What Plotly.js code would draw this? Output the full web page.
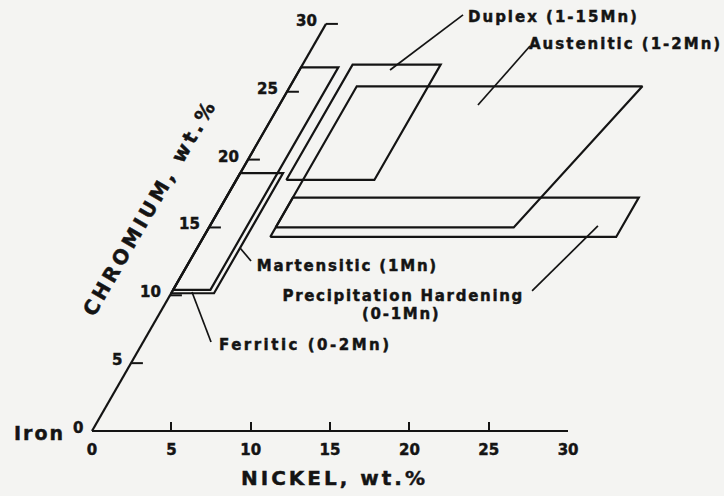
<!DOCTYPE html>
<html>
<head>
<meta charset="utf-8">
<script src="https://cdn.plot.ly/plotly-3.0.1.min.js"></script>
<style>
  html, body { margin: 0; padding: 0; background: #f4f4f2; }
  #chart { width: 724px; height: 496px; }
  #chart text { stroke: #141414; stroke-width: 0.45px; }
</style>
</head>
<body>
<div id="chart"></div>
<script>
// Stainless steel families in the Fe-Cr-Ni corner (oblique Cr axis at 60 degrees)
const niTicks = [0, 5, 10, 15, 20, 25, 30];
const crTicks = [0, 5, 10, 15, 20, 25, 30];

// Region outlines, Ni wt.% and Cr wt.%
const ferriticNi = [0, 2.35, 2.35, 0];
const ferriticCr = [10.4, 10.4, 26.8, 26.8];
const martensiticNi = [0, 2.7, 2.7, 0];
const martensiticCr = [10.15, 10.15, 19.0, 19.0];
const duplexNi = [3.15, 8.7, 8.7, 3.15];
const duplexCr = [18.5, 18.5, 27.0, 27.0];
const austeniticNi = [4.2, 19.2, 22.2, 4.2];
const austeniticCr = [15.0, 15.0, 25.4, 25.4];
const precipNi = [4.2, 26.0, 26.0, 4.2];
const precipCr = [14.3, 14.3, 17.2, 17.2];

const INK = '#141414';
const FONT = 'DejaVu Sans';
// horizontal shift of the oblique chromium axis per wt.% Cr, in nickel units
const SKEW = 0.4915;
const toX = (ni, cr) => ni + SKEW * cr;

function outline(ni, cr) {
  const x = ni.map((n, i) => toX(n, cr[i]));
  const y = cr.slice();
  x.push(x[0]); y.push(y[0]);
  return { x, y, mode: 'lines', line: { color: INK, width: 2.2 }, hoverinfo: 'skip', showlegend: false };
}

const traces = [
  outline(ferriticNi, ferriticCr),
  outline(martensiticNi, martensiticCr),
  outline(duplexNi, duplexCr),
  outline(austeniticNi, austeniticCr),
  outline(precipNi, precipCr)
];

// chromium axis line and its tick marks
traces.push({
  x: [toX(0, crTicks[0]), toX(0, crTicks[crTicks.length - 1])],
  y: [crTicks[0], crTicks[crTicks.length - 1]],
  mode: 'lines', line: { color: INK, width: 2.2 }, hoverinfo: 'skip', showlegend: false
});
const tx = [], ty = [];
crTicks.slice(1).forEach(v => {
  tx.push(toX(0, v), toX(0, v) + 0.75, null);
  ty.push(v, v, null);
});
traces.push({ x: tx, y: ty, mode: 'lines', line: { color: INK, width: 2 }, hoverinfo: 'skip', showlegend: false });

// anchor trace for the nickel axis subplot
traces.push({ x: [0], y: [0], xaxis: 'x2', yaxis: 'y', mode: 'markers',
  marker: { opacity: 0, size: 1 }, hoverinfo: 'skip', showlegend: false });

const bold = (size) => ({ family: FONT, size: size, color: INK, weight: 'bold' });

const annotations = [];
const spacing = [];
// labels anchored at their left edge keep that edge when letter spacing is added
function note(text, x, y, opts, ls) {
  const a = Object.assign({ text, x, y, xref: 'x', yref: 'y', showarrow: false,
    xanchor: 'left', yanchor: 'middle', font: bold(15) }, opts || {});
  if (a.xanchor === 'left' && ls) a.xshift = (a.xshift || 0) + ls * text.length / 2;
  annotations.push(a);
  spacing.push(ls);
}

note('NICKEL, wt.%', 15.25, -3.46, { xanchor: 'center', font: bold(20) }, 3);
note('CHROMIUM, wt.%', 3.65, 16.5, { xanchor: 'center', textangle: -60, font: bold(20) }, 3.5);
note('Duplex (1-15Mn)', 23.57, 30.51, {}, 2);
note('Austenitic (1-2Mn)', 27.41, 28.52, {}, 2);
note('Martensitic (1Mn)', 10.27, 12.16, {}, 1.8);
note('Precipitation Hardening', 19.6, 9.95, { xanchor: 'center' }, 1.7);
note('(0-1Mn)', 19.47, 8.62, { xanchor: 'center' }, 1.7);
note('Ferritic (0-2Mn)', 7.88, 6.34, {}, 2.5);
note('Iron', -5.04, -0.15, { font: { family: FONT, size: 19, color: INK, weight: 'bold' } }, 2);

crTicks.forEach(v => {
  note(String(v), toX(0, v), v, { xanchor: 'right', xshift: -7, yshift: 3 }, 0);
});

// leader lines from labels to regions
const leaders = [
  [23.38, 30.66, 18.78, 26.6],
  [27.6, 28.37, 24.32, 24.02],
  [10.02, 12.53, 9.33, 13.49],
  [27.73, 10.32, 31.88, 15.11],
  [7.5, 6.56, 6.3, 10.24]
];
const shapes = leaders.map(l => ({ type: 'line', xref: 'x', yref: 'y',
  x0: l[0], y0: l[1], x1: l[2], y1: l[3], line: { color: INK, width: 1.7 } }));

// per-annotation letter spacing
const css = spacing.map((s, i) => s ? `g.annotation[data-index="${i}"] text{letter-spacing:${s}px}` : '').join('\n');
const st = document.createElement('style');
st.textContent = css;
document.head.appendChild(st);

const W = 724, H = 496, OX = 92, OY = 431, PXNI = 15.87, PXCR = 13.57;

const layout = {
  width: W, height: H,
  margin: { l: 0, r: 0, t: 0, b: 0 },
  paper_bgcolor: '#f4f4f2',
  plot_bgcolor: 'rgba(0,0,0,0)',
  hovermode: false,
  showlegend: false,
  xaxis: { range: [-OX / PXNI, (W - OX) / PXNI], visible: false, fixedrange: true },
  yaxis: { range: [-(H - OY) / PXCR, OY / PXCR], visible: false, fixedrange: true },
  xaxis2: {
    domain: [OX / W, (OX + 30 * PXNI) / W], range: [0, 30],
    anchor: 'free', position: (H - OY) / H,
    showline: true, linewidth: 2.2, linecolor: INK,
    ticks: 'inside', ticklen: 8, tickwidth: 2, tickcolor: INK,
    tickvals: niTicks, ticktext: niTicks.map(String),
    tickfont: bold(15), ticklabelstandoff: 5,
    showgrid: false, zeroline: false, fixedrange: true
  },
  annotations, shapes
};

Plotly.newPlot('chart', traces, layout, { staticPlot: true, displayModeBar: false });
</script>
</body>
</html>
